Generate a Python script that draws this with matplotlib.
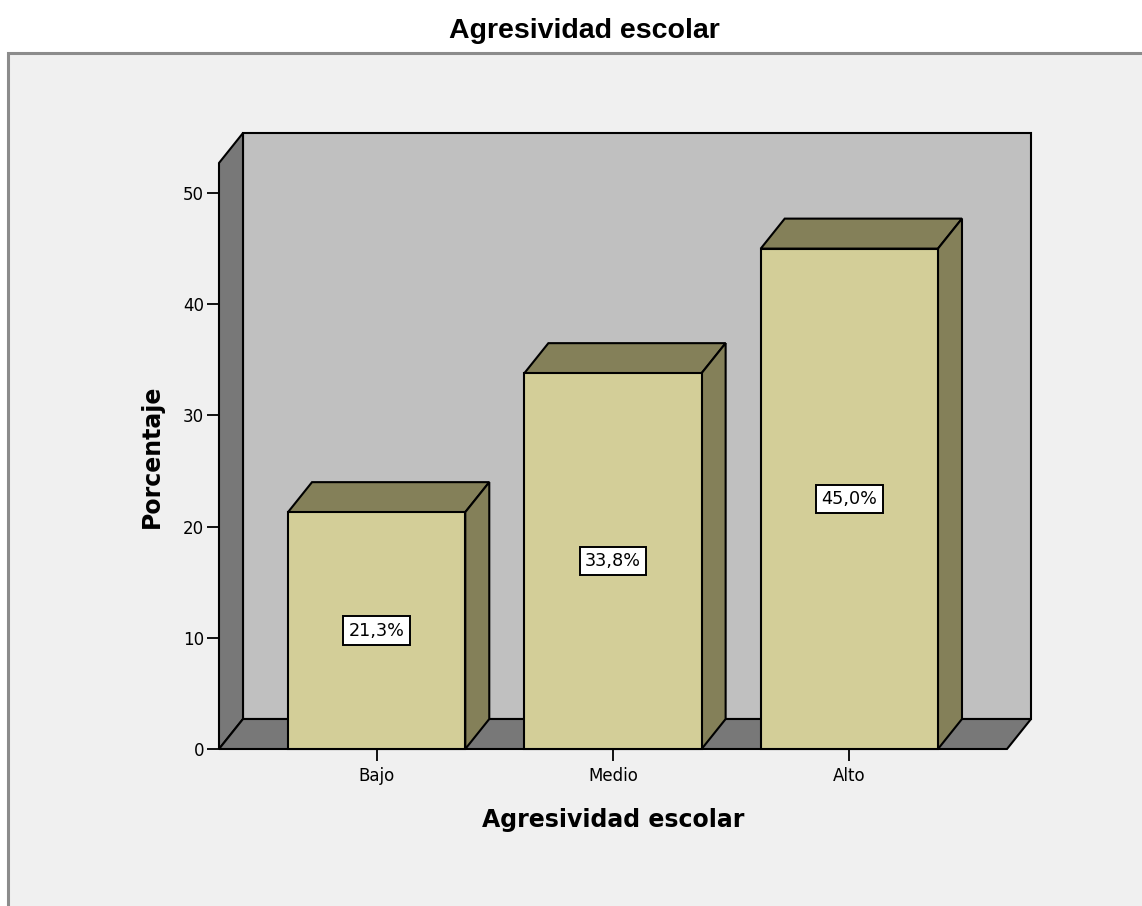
import matplotlib
matplotlib.use('Agg')
import matplotlib.pyplot as plt
from matplotlib.patches import Polygon, Rectangle

categories = ['Bajo', 'Medio', 'Alto']
percentages = [21.3, 33.8, 45.0]
value_labels = ['21,3%', '33,8%', '45,0%']
y_ticks = [0, 10, 20, 30, 40, 50]
title = 'Agresividad escolar'
x_title = 'Agresividad escolar'
y_title = 'Porcentaje'

W, H = 1142, 906
fig = plt.figure(figsize=(W / 100, H / 100), dpi=100)
fig.patch.set_facecolor('white')

panel = Rectangle((8 / W, -0.1), 1.2, (H - 53) / H + 0.1, transform=fig.transFigure,
                  facecolor='#f0f0f0', edgecolor='#8c8c8c', lw=2.2, zorder=-10)
fig.patches.append(panel)

ax = fig.add_axes([219 / W, (H - 749) / H, 788 / W, 586 / H])
ax.set_zorder(1)
x0, x1 = -0.667, 2.667
ytop = 52.7
ax.set_xlim(x0, x1)
ax.set_ylim(0, ytop)
ax.patch.set_visible(False)
for s in ax.spines.values():
    s.set_visible(False)

# depth offset (pixels) converted into data units
dx_px, dy_px = 24, 30
p0 = ax.transData.transform((0, 0))
ddx, ddy = ax.transData.inverted().transform((p0[0] + dx_px, p0[1] + dy_px))

lw = 1.5
ek = 'black'
# back wall
ax.add_patch(Rectangle((x0 + ddx, ddy), x1 - x0, ytop, facecolor='#c0c0c0',
                       edgecolor=ek, lw=lw, clip_on=False, zorder=1))
# left wall
ax.add_patch(Polygon([(x0, 0), (x0, ytop), (x0 + ddx, ytop + ddy), (x0 + ddx, ddy)],
                     closed=True, facecolor='#787878', edgecolor=ek, lw=lw,
                     clip_on=False, zorder=2))
# floor
ax.add_patch(Polygon([(x0, 0), (x1, 0), (x1 + ddx, ddy), (x0 + ddx, ddy)],
                     closed=True, facecolor='#787878', edgecolor=ek, lw=lw,
                     clip_on=False, zorder=2))

pos = list(range(len(categories)))
bw = 0.75
front = '#d3ce98'
dark = '#848059'
bars = ax.bar(pos, percentages, width=bw, color=front, edgecolor=ek, lw=lw,
              zorder=4, clip_on=False)
for b, v in zip(bars, percentages):
    l = b.get_x()
    r = l + b.get_width()
    ax.add_patch(Polygon([(l, v), (r, v), (r + ddx, v + ddy), (l + ddx, v + ddy)],
                         closed=True, facecolor=dark, edgecolor=ek, lw=lw,
                         clip_on=False, zorder=3))
    ax.add_patch(Polygon([(r, 0), (r + ddx, ddy), (r + ddx, v + ddy), (r, v)],
                         closed=True, facecolor=dark, edgecolor=ek, lw=lw,
                         clip_on=False, zorder=3))

for p, v, t in zip(pos, percentages, value_labels):
    ax.text(p, v / 2, t, ha='center', va='center', fontsize=12.7,
            family='DejaVu Sans', zorder=6,
            bbox=dict(boxstyle='square,pad=0.3', fc='white', ec='black', lw=1.4))

ax.set_xticks(pos)
ax.set_xticklabels(categories, fontsize=12, family='DejaVu Sans')
ax.set_yticks(y_ticks)
ax.set_yticklabels([str(t) for t in y_ticks], fontsize=12, family='DejaVu Sans')
ax.tick_params(axis='y', length=8.6, width=1.3, pad=2.2, colors='black')
ax.tick_params(axis='x', length=8.6, width=1.3, pad=4.3, colors='black')

fig.text(584 / W, 1 - 38 / H, title, ha='center', va='baseline',
         family='Liberation Sans', fontweight='bold', fontsize=20.5)
fig.text(613.5 / W, 1 - 827 / H, x_title, ha='center', va='baseline',
         family='DejaVu Sans', fontweight='bold', fontsize=17)
fig.text(152 / W, 1 - 456 / H, y_title, ha='center', va='center', rotation=90,
         family='DejaVu Sans', fontweight='bold', fontsize=17)

fig.savefig('out.png', dpi=100, facecolor='white')
